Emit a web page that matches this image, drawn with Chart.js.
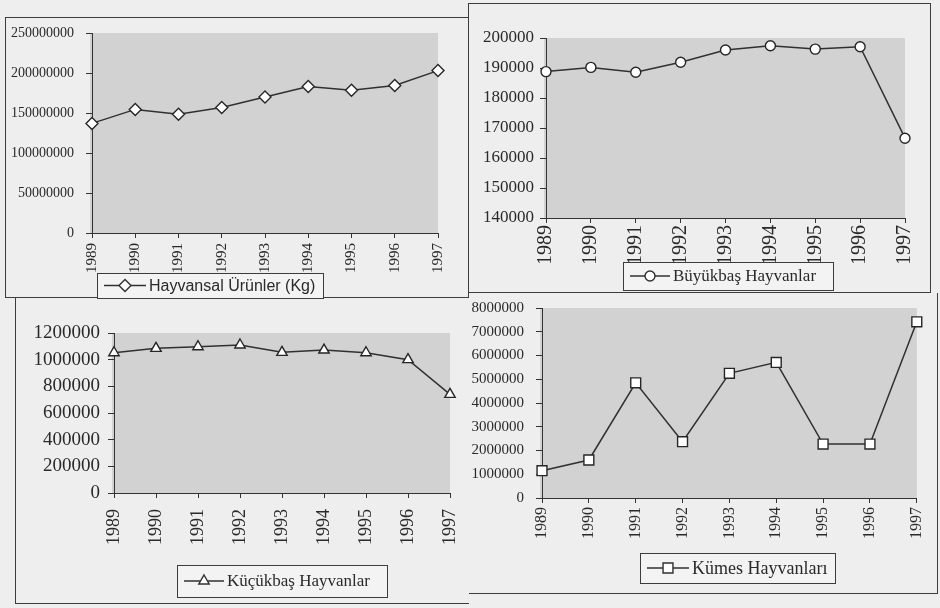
<!DOCTYPE html>
<html>
<head>
<meta charset="utf-8">
<script src="https://cdn.jsdelivr.net/npm/chart.js@4.4.1/dist/chart.umd.min.js"></script>
<style>
body { margin: 0; background: #eeeeee; }
#page { position: relative; width: 940px; height: 608px; overflow: hidden; background: #eeeeee; }
canvas { position: absolute; left: 0; top: 0; }
.frame { position: absolute; border: 0 solid #3c3c3c; box-sizing: border-box; }
</style>
</head>
<body>
<div id="page">
  <div class="frame" style="left:5px;top:17px;width:464px;height:281px;border-width:1px;"></div>
  <div class="frame" style="left:468px;top:3px;width:463px;height:290px;border-width:1px;"></div>
  <div class="frame" style="left:15px;top:297px;width:454px;height:307px;border-width:0 0 1px 1px;"></div>
  <div class="frame" style="left:469px;top:293px;width:469px;height:301px;border-width:0 1px 1px 0;"></div>
  <canvas id="chartUrun" width="940" height="608"></canvas>
  <canvas id="chartBuyuk" width="940" height="608"></canvas>
  <canvas id="chartKucuk" width="940" height="608"></canvas>
  <canvas id="chartKumes" width="940" height="608"></canvas>
</div>
<script>
// Years on every x axis
const years = ['1989', '1990', '1991', '1992', '1993', '1994', '1995', '1996', '1997'];

// Series
const hayvansalUrunler = [137000000, 154500000, 148500000, 157000000, 170000000, 183000000, 178500000, 184500000, 203000000];
const buyukbasHayvanlar = [188800, 190200, 188600, 191900, 196000, 197400, 196300, 197100, 166600];
const kucukbasHayvanlar = [1052000, 1085000, 1097000, 1110000, 1055000, 1072000, 1052000, 1000000, 740000];
const kumesHayvanlari = [1150000, 1600000, 4850000, 2370000, 5250000, 5710000, 2270000, 2270000, 7420000];

const serif = "'Liberation Serif', 'DejaVu Serif', serif";
const sans = "'Liberation Sans', Arial, sans-serif";
const ink = '#2a2a2a';

// draw one marker shape (used for the legend sample)
function drawMarker(ctx, shape, x, y, r) {
    ctx.beginPath();
    if (shape === 'rectRot') {
        ctx.moveTo(x - r, y); ctx.lineTo(x, y - r); ctx.lineTo(x + r, y); ctx.lineTo(x, y + r);
        ctx.closePath();
    } else if (shape === 'circle') {
        ctx.arc(x, y, r, 0, Math.PI * 2);
    } else if (shape === 'triangle') {
        for (let i = 0; i < 3; i++) {
            let a = i * 2 * Math.PI / 3;
            let px = x + Math.sin(a) * r, py = y - Math.cos(a) * r;
            if (i === 0) ctx.moveTo(px, py); else ctx.lineTo(px, py);
        }
        ctx.closePath();
    } else {
        let s = r * Math.SQRT1_2;
        ctx.rect(x - s, y - s, 2 * s, 2 * s);
    }
    ctx.fill();
    ctx.stroke();
}

// grey plot area and the boxed Excel style legend
const panelDecor = {
    id: 'panelDecor',
    beforeDraw: function(chart, args, opts) {
        const a = chart.chartArea;
        const ctx = chart.ctx;
        ctx.save();
        ctx.fillStyle = opts.plotFill;
        ctx.fillRect(a.left - 2, a.top, a.right - a.left + 2, a.bottom - a.top);
        ctx.restore();
    },
    afterDraw: function(chart, args, opts) {
        const b = opts.box;
        const ctx = chart.ctx;
        const ds = chart.data.datasets[0];
        const cy = b.y + b.h / 2;
        ctx.save();
        ctx.fillStyle = '#f3f3f3';
        ctx.fillRect(b.x, b.y, b.w, b.h);
        ctx.strokeStyle = '#3c3c3c';
        ctx.lineWidth = 1;
        ctx.strokeRect(b.x + 0.5, b.y + 0.5, b.w, b.h);
        ctx.strokeStyle = ds.borderColor;
        ctx.lineWidth = ds.borderWidth;
        ctx.beginPath();
        ctx.moveTo(b.x + 7, cy);
        ctx.lineTo(b.x + 7 + b.line, cy);
        ctx.stroke();
        ctx.fillStyle = '#ffffff';
        ctx.lineWidth = ds.pointBorderWidth;
        drawMarker(ctx, ds.pointStyle, b.x + 7 + b.line / 2, cy, ds.pointRadius);
        ctx.fillStyle = ink;
        ctx.font = b.font;
        ctx.textBaseline = 'middle';
        ctx.fillText(ds.label, b.x + 10 + b.line, cy + 1);
        ctx.restore();
    }
};

function makeChart(canvasId, values, label, o) {
    let ctx = document.getElementById(canvasId).getContext('2d');
    return new Chart(ctx, {
        type: 'line',
        data: {
            labels: years,
            datasets: [{
                label: label,
                data: values,
                borderColor: '#303030',
                borderWidth: 1.5,
                tension: 0,
                fill: false,
                clip: false,
                pointStyle: o.marker,
                pointRadius: o.radius,
                pointHoverRadius: o.radius,
                pointBackgroundColor: '#ffffff',
                pointBorderColor: '#262626',
                pointBorderWidth: 1.4
            }]
        },
        options: {
            responsive: false,
            animation: false,
            events: [],
            layout: {
                padding: {
                    left: o.plot.left - o.yWidth,
                    top: o.plot.top,
                    right: 940 - o.plot.right,
                    bottom: 608 - o.plot.bottom - o.xHeight
                }
            },
            plugins: {
                legend: { display: false },
                tooltip: { enabled: false },
                panelDecor: { plotFill: '#d2d2d2', box: o.legend }
            },
            scales: {
                x: {
                    offset: false,
                    afterFit: function(scale) { scale.height = o.xHeight; },
                    grid: { drawOnChartArea: false, drawTicks: true, tickLength: 5, color: '#333' },
                    border: { display: true, color: '#333', width: 1 },
                    ticks: {
                        autoSkip: false, minRotation: 90, maxRotation: 90,
                        padding: o.xPad, color: ink,
                        font: { family: serif, size: o.xFont }
                    }
                },
                y: {
                    min: o.min, max: o.max,
                    afterFit: function(scale) { scale.width = o.yWidth; },
                    grid: { drawOnChartArea: false, drawTicks: true, tickLength: 6, color: '#333' },
                    border: { display: true, color: '#333', width: 1 },
                    ticks: {
                        stepSize: o.step, padding: o.yPad, color: ink,
                        font: { family: serif, size: o.yFont },
                        callback: function(v) { return String(v); }
                    }
                }
            }
        },
        plugins: [panelDecor]
    });
}

makeChart('chartUrun', hayvansalUrunler, 'Hayvansal Ürünler (Kg)', {
    plot: { left: 92, right: 438, top: 33, bottom: 233 },
    yWidth: 85, xHeight: 45, yPad: 12, yFont: 14, xFont: 15, xPad: 5,
    min: 0, max: 250000000, step: 50000000,
    marker: 'rectRot', radius: 6,
    legend: { x: 97, y: 273, w: 226, h: 25, line: 42, font: '16px ' + sans }
});

makeChart('chartBuyuk', buyukbasHayvanlar, 'Büyükbaş Hayvanlar', {
    plot: { left: 546, right: 905, top: 38, bottom: 218 },
    yWidth: 76, xHeight: 45, yPad: 6, yFont: 17, xFont: 20, xPad: 2,
    min: 140000, max: 200000, step: 10000,
    marker: 'circle', radius: 5,
    legend: { x: 623, y: 262, w: 210, h: 28, line: 40, font: '17px ' + serif }
});

makeChart('chartKucuk', kucukbasHayvanlar, 'Küçükbaş Hayvanlar', {
    plot: { left: 114, right: 450, top: 333, bottom: 493 },
    yWidth: 100, xHeight: 60, yPad: 8, yFont: 19, xFont: 18, xPad: 11,
    min: 0, max: 1200000, step: 200000,
    marker: 'triangle', radius: 6,
    legend: { x: 177, y: 565, w: 210, h: 32, line: 40, font: '17px ' + serif }
});

makeChart('chartKumes', kumesHayvanlari, 'Kümes Hayvanları', {
    plot: { left: 542, right: 927, top: 308, bottom: 498 },
    yWidth: 72, xHeight: 45, yPad: 12, yFont: 15, xFont: 16, xPad: 4,
    min: 0, max: 8000000, step: 1000000,
    marker: 'rect', radius: 7,
    legend: { x: 640, y: 553, w: 195, h: 30, line: 42, font: '18px ' + serif }
});
</script>
</body>
</html>
